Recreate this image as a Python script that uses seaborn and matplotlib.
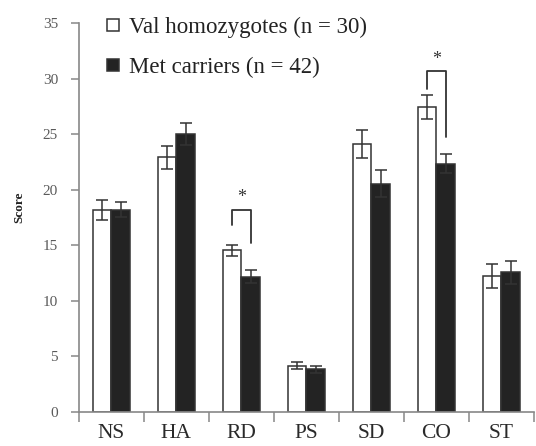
import matplotlib
matplotlib.use("Agg")
import matplotlib.pyplot as plt
import seaborn as sns
import pandas as pd
import numpy as np
from matplotlib.lines import Line2D

categories = ["NS", "HA", "RD", "PS", "SD", "CO", "ST"]
groups = ["Val homozygotes (n = 30)", "Met carriers (n = 42)"]
val_means = [18.2, 22.9, 14.55, 4.15, 24.1, 27.45, 12.2]
val_se = [0.9, 1.0, 0.5, 0.3, 1.25, 1.05, 1.1]
met_means = [18.2, 25.0, 12.15, 3.8, 20.55, 22.35, 12.55]
met_se = [0.7, 1.0, 0.6, 0.3, 1.2, 0.85, 1.05]
yticks = [0, 5, 10, 15, 20, 25, 30, 35]
# significance brackets: (category index, bracket top, left leg end, right leg end)
sig_cats = ["RD", "CO"]
sig_top = [18.2, 30.65]
sig_left_end = [16.8, 29.1]
sig_right_end = [15.2, 24.75]

df = pd.DataFrame({
    "category": categories * 2,
    "group": [groups[0]] * len(categories) + [groups[1]] * len(categories),
    "score": val_means + met_means,
    "se": val_se + met_se,
})

sns.set_style("white")
plt.rcParams["font.family"] = ["Liberation Serif", "DejaVu Serif"]

fig = plt.figure(figsize=(5.36, 4.46), dpi=100)
ax = fig.add_axes([0.147, 0.077, 0.849, 0.871])

edge = "#333333"
pal = {groups[0]: "white", groups[1]: "#232323"}
sns.barplot(data=df, x="category", y="score", hue="group", order=categories,
            hue_order=groups, palette=pal, width=0.57, errorbar=None,
            edgecolor=edge, linewidth=1.1, ax=ax, legend=False)

# error bars from bar patches
bars = [p for p in ax.patches]
n = len(categories)
for gi, (means, ses) in enumerate([(val_means, val_se), (met_means, met_se)]):
    for ci in range(n):
        p = bars[gi * n + ci]
        xc = p.get_x() + p.get_width() / 2
        ax.errorbar(xc, means[ci], yerr=ses[ci], fmt="none", ecolor=edge,
                    elinewidth=1.1, capsize=4, capthick=1.1, zorder=5)

# significance brackets
for k, cat in enumerate(sig_cats):
    ci = categories.index(cat)
    pl = bars[ci]
    pr = bars[n + ci]
    xl = pl.get_x() + pl.get_width() / 2
    xr = pr.get_x() + pr.get_width() / 2
    ax.plot([xl, xl, xr, xr], [sig_left_end[k], sig_top[k], sig_top[k], sig_right_end[k]],
            color=edge, lw=1.3, zorder=6)
    ax.text((xl + xr) / 2, sig_top[k] + 0.3, "*", ha="center", va="bottom",
            fontsize=13, color=edge)

ax.set_ylim(0, 35)
ax.set_xlim(-0.5, n - 0.5)
ax.set_yticks(yticks)
ax.set_yticklabels([str(t) for t in yticks], fontsize=11, color="#5a5a5a")
ax.set_xticks(range(n))
ax.set_xticklabels(categories, fontsize=15.5, color="#2a2a2a")
ax.set_xticks(np.arange(-0.5, n, 1.0), minor=True)
ax.tick_params(axis="x", which="major", bottom=True, length=0, pad=9)
ax.tick_params(axis="x", which="minor", bottom=True, length=7, width=1.1,
               color="#888888", direction="out")
ax.tick_params(axis="y", left=True, length=6, width=1.1, color="#888888",
               direction="out", pad=9)
ax.set_xlabel("")
ax.set_ylabel("Score", fontsize=9.5, fontweight="bold", color="#222222")
ax.yaxis.set_label_coords(-0.118, 0.527)

for s in ["top", "right"]:
    ax.spines[s].set_visible(False)
for s in ["left", "bottom"]:
    ax.spines[s].set_color("#888888")
    ax.spines[s].set_linewidth(1.2)

handles = [
    Line2D([0], [0], marker="s", linestyle="none", markersize=8.8,
           markerfacecolor="white", markeredgecolor=edge, markeredgewidth=1.1),
    Line2D([0], [0], marker="s", linestyle="none", markersize=8.8,
           markerfacecolor="#232323", markeredgecolor=edge, markeredgewidth=1.1),
]
leg = ax.legend(handles, groups, loc="upper left", bbox_to_anchor=(0.04, 1.041),
                frameon=False, fontsize=16.5, handlelength=0.6, handletextpad=0.4,
                labelspacing=0.85, borderaxespad=0)
for t in leg.get_texts():
    t.set_color("#222222")

fig.savefig("out.png", dpi=100)
